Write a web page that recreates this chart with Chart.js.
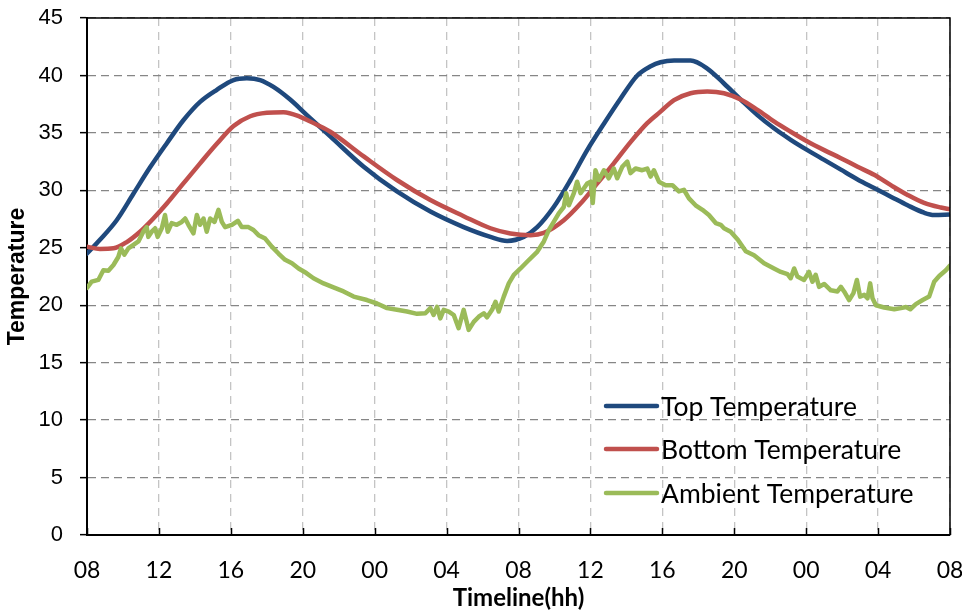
<!DOCTYPE html>
<html>
<head>
<meta charset="utf-8">
<script src="https://cdn.jsdelivr.net/npm/chart.js@4.4.1/dist/chart.umd.min.js"></script>
<style>
  html, body { margin: 0; padding: 0; background: #ffffff; }
  #wrap { width: 962px; height: 614px; }
</style>
</head>
<body>
<div id="wrap"><canvas id="chart" width="962" height="614"></canvas></div>
<script>
// Clock labels every 4 hours over two days, starting at 08:00
const hourLabels = ['08', '12', '16', '20', '00', '04', '08', '12', '16', '20', '00', '04', '08'];

const seriesNames = ['Top Temperature', 'Bottom Temperature', 'Ambient Temperature'];
const seriesColors = ['#1F497D', '#C0504D', '#9BBB59'];

// Hours elapsed since 08:00 on the first day, and temperatures
const topHours = [0, 0.72, 1.65, 2.58, 3.51, 4.44, 5.36, 6.29, 7.22, 8.15, 8.89, 9.63, 10.37, 11.3, 12.23,
  13.53, 15.39, 17.24, 19.1, 20.95, 22.44, 23.37, 24.29, 25.04, 25.96, 26.89, 27.82, 28.75, 29.68, 30.61,
  31.35, 31.9, 32.65, 33.57, 34.5, 35.43, 36.36, 37.29, 38.21, 39.14, 40.07, 41.0, 41.93, 42.86, 43.78,
  44.71, 45.64, 46.56, 47.12, 48];
const topTemp = [24.5, 25.7, 27.4, 29.7, 32.0, 34.1, 36.1, 37.7, 38.75, 39.6, 39.75, 39.6, 39.0, 37.9, 36.55,
  34.7, 32.05, 29.9, 28.15, 26.8, 25.95, 25.6, 25.95, 26.8, 28.55, 30.9, 33.5, 35.8, 38.0, 40.0,
  40.8, 41.15, 41.3, 41.3, 40.6, 39.3, 37.9, 36.55, 35.4, 34.4, 33.5, 32.65, 31.8, 30.95, 30.2,
  29.45, 28.7, 28.05, 27.85, 27.9];

const bottomHours = [0, 0.72, 1.47, 2.21, 2.95, 3.69, 4.44, 5.36, 6.29, 7.22, 8.15, 9.08, 10.0, 10.93, 11.86,
  12.79, 13.53, 15.39, 17.24, 19.1, 20.95, 22.44, 23.55, 24.67, 25.41, 26.52, 27.45, 28.38, 29.3, 30.23,
  31.16, 31.9, 32.65, 33.57, 34.5, 35.43, 36.36, 37.29, 38.21, 39.14, 40.07, 41.0, 41.93, 42.86, 43.78,
  44.71, 45.64, 46.56, 47.49, 48];
const bottomTemp = [25.1, 24.9, 24.95, 25.5, 26.4, 27.55, 28.85, 30.6, 32.35, 34.05, 35.6, 36.45, 36.75, 36.8, 36.4,
  35.7, 35.1, 32.95, 30.9, 29.15, 27.75, 26.7, 26.25, 26.1, 26.3, 27.4, 28.85, 30.6, 32.35, 34.2,
  35.85, 36.85, 37.85, 38.45, 38.6, 38.45, 37.9, 37.0, 36.0, 35.1, 34.25, 33.5, 32.8, 32.05, 31.35,
  30.45, 29.6, 28.9, 28.5, 28.35];

const ambientHours = [0, 0.26, 0.63, 0.91, 1.19, 1.47, 1.74, 1.89, 2.08, 2.3, 2.58, 2.86, 3.13, 3.32, 3.41,
  3.6, 3.79, 3.93, 4.16, 4.34, 4.49, 4.71, 4.99, 5.27, 5.46, 5.64, 5.92, 6.11, 6.29, 6.48,
  6.66, 6.85, 7.09, 7.31, 7.5, 7.68, 8.06, 8.39, 8.61, 8.98, 9.26, 9.54, 9.91, 10.28, 10.65,
  11.02, 11.4, 11.77, 12.2, 12.6, 13.16, 13.71, 14.27, 14.83, 15.57, 16.13, 16.69, 17.24, 17.8, 18.36,
  18.82, 19.1, 19.28, 19.47, 19.65, 19.84, 20.12, 20.4, 20.67, 20.95, 21.23, 21.51, 21.79, 22.07, 22.25,
  22.53, 22.72, 22.9, 23.18, 23.46, 23.74, 24.11, 24.52, 25.04, 25.41, 25.69, 25.96, 26.24, 26.52, 26.65,
  26.8, 27.08, 27.26, 27.45, 27.63, 27.82, 28.01, 28.13, 28.28, 28.47, 28.75, 29.02, 29.3, 29.49, 29.77,
  30.05, 30.23, 30.51, 30.88, 31.16, 31.35, 31.53, 31.81, 32.18, 32.56, 32.92, 33.2, 33.48, 33.85, 34.23,
  34.59, 34.97, 35.25, 35.43, 35.8, 36.2, 36.64, 37.1, 37.66, 38.21, 38.59, 38.96, 39.14, 39.33, 39.51,
  39.88, 40.16, 40.35, 40.53, 40.72, 41.0, 41.37, 41.74, 41.93, 42.11, 42.39, 42.63, 42.82, 43.0, 43.23,
  43.41, 43.56, 43.69, 43.88, 44.34, 44.9, 45.27, 45.55, 45.79, 46.1, 46.48, 46.84, 47.12, 47.4, 47.77,
  48];
const ambientTemp = [21.5, 22.05, 22.2, 23.05, 23.0, 23.5, 24.2, 24.95, 24.4, 24.95, 25.25, 25.55, 26.4, 26.8, 25.95,
  26.4, 26.7, 25.95, 26.7, 27.85, 26.4, 27.15, 27.0, 27.25, 27.55, 27.0, 26.25, 27.85, 27.0, 27.55,
  26.4, 27.55, 27.25, 28.3, 27.25, 26.8, 27.0, 27.35, 26.8, 26.8, 26.55, 26.1, 25.8, 25.1, 24.5,
  23.95, 23.65, 23.2, 22.8, 22.35, 21.9, 21.55, 21.2, 20.75, 20.45, 20.15, 19.75, 19.6, 19.45, 19.25,
  19.3, 19.75, 19.15, 19.85, 18.85, 19.6, 19.45, 19.15, 18.0, 19.6, 17.85, 18.55, 19.0, 19.3, 18.95,
  19.6, 20.3, 19.45, 20.75, 21.9, 22.65, 23.2, 23.85, 24.65, 25.55, 26.55, 27.25, 28.0, 28.55, 29.75,
  28.7, 29.75, 30.75, 29.75, 30.15, 30.6, 30.75, 28.9, 31.75, 30.9, 31.75, 31.05, 31.9, 31.05, 32.05,
  32.5, 31.5, 31.9, 31.75, 31.9, 31.2, 31.75, 30.75, 30.45, 30.45, 29.9, 30.05, 29.3, 28.7, 28.3,
  27.85, 27.15, 27.0, 26.7, 26.4, 25.7, 24.7, 24.35, 23.65, 23.2, 22.9, 22.7, 22.35, 23.2, 22.5,
  22.2, 22.9, 22.05, 22.65, 21.6, 21.85, 21.3, 21.2, 21.6, 21.2, 20.45, 21.05, 22.2, 20.75, 20.9,
  20.6, 21.9, 20.6, 20.0, 19.8, 19.65, 19.75, 19.85, 19.65, 20.1, 20.45, 20.75, 22.05, 22.55, 23.05,
  23.45];

const toPoints = (xs, ys) => xs.map((x, i) => ({ x: x, y: ys[i] }));

const SANS_C = 'Lato, "Open Sans", sans-serif';
const SANS_A = '"Liberation Sans", Arial, sans-serif';

// Solid frame along the top and right of the plot, plus short inward ticks on the time axis
const plotFrame = {
  id: 'plotFrame',
  afterDatasetsDraw(chart) {
    const { ctx, chartArea: a, scales } = chart;
    ctx.save();
    ctx.strokeStyle = '#000000';
    ctx.lineWidth = 1.5;
    ctx.beginPath();
    ctx.moveTo(a.left, a.top);
    ctx.lineTo(a.right, a.top);
    ctx.lineTo(a.right, a.bottom);
    ctx.stroke();
    ctx.beginPath();
    scales.x.ticks.forEach(t => {
      const px = Math.round(scales.x.getPixelForValue(t.value)) + 0.5;
      ctx.moveTo(px, a.bottom);
      ctx.lineTo(px, a.bottom - 7);
    });
    ctx.stroke();
    ctx.restore();
  }
};

// Legend drawn inside the lower right of the plot
const insideLegend = {
  id: 'insideLegend',
  afterDraw(chart) {
    const { ctx } = chart;
    const rowY = [406, 449, 493];
    ctx.save();
    ctx.font = '26.5px ' + SANS_C;
    ctx.textBaseline = 'middle';
    ctx.textAlign = 'left';
    chart.data.datasets.forEach((ds, i) => {
      ctx.strokeStyle = ds.borderColor;
      ctx.lineWidth = 4.5;
      ctx.lineCap = 'round';
      ctx.beginPath();
      ctx.moveTo(606, rowY[i]);
      ctx.lineTo(657, rowY[i]);
      ctx.stroke();
      ctx.fillStyle = '#000000';
      ctx.fillText(ds.label, 661, rowY[i] + 1);
    });
    ctx.restore();
  }
};

new Chart(document.getElementById('chart'), {
  type: 'line',
  data: {
    datasets: [
      { label: seriesNames[0], data: toPoints(topHours, topTemp), borderColor: seriesColors[0],
        borderWidth: 4.5, tension: 0.4, cubicInterpolationMode: 'monotone', order: 3 },
      { label: seriesNames[1], data: toPoints(bottomHours, bottomTemp), borderColor: seriesColors[1],
        borderWidth: 4.5, tension: 0.4, cubicInterpolationMode: 'monotone', order: 2 },
      { label: seriesNames[2], data: toPoints(ambientHours, ambientTemp), borderColor: seriesColors[2],
        borderWidth: 4.5, tension: 0, order: 1 }
    ]
  },
  options: {
    responsive: false,
    animation: false,
    events: [],
    elements: {
      point: { radius: 0 },
      line: { borderJoinStyle: 'round', borderCapStyle: 'round', fill: false }
    },
    layout: { padding: { top: 18, right: 12, left: 0, bottom: 0 } },
    plugins: { legend: { display: false }, tooltip: { enabled: false } },
    scales: {
      x: {
        type: 'linear',
        min: 0,
        max: 48,
        afterFit(scale) {
          scale.height = 79;
          scale.paddingLeft = 0;
          scale.paddingRight = 0;
        },
        grid: { color: '#c4c4c4', lineWidth: 1.3, drawTicks: false },
        border: { display: true, color: '#000000', width: 2, dash: [8, 6] },
        ticks: {
          stepSize: 4,
          autoSkip: false,
          maxRotation: 0,
          padding: 22,
          color: '#000000',
          font: { family: SANS_C, size: 23 },
          callback: (v, i) => hourLabels[i]
        },
        title: {
          display: true,
          text: 'Timeline(hh)',
          color: '#000000',
          font: { family: SANS_C, size: 24, weight: 'bold', lineHeight: 1.0 },
          padding: { top: 0, bottom: 4 }
        }
      },
      y: {
        min: 0,
        max: 45,
        afterFit(scale) {
          scale.width = 87;
          scale.paddingTop = 0;
          scale.paddingBottom = 0;
        },
        grid: { color: '#868686', lineWidth: 1.3, drawTicks: true, tickLength: 7,
                tickColor: '#000000', tickWidth: 1.5, tickBorderDash: [] },
        border: { display: true, color: '#000000', width: 2, dash: [8, 5] },
        ticks: {
          stepSize: 5,
          padding: 17,
          color: '#000000',
          font: { family: SANS_A, size: 22 }
        },
        title: {
          display: true,
          text: 'Temperature',
          color: '#000000',
          font: { family: SANS_A, size: 23, weight: 'bold', lineHeight: 1.2 },
          padding: { top: 4, bottom: 0 }
        }
      }
    }
  },
  plugins: [plotFrame, insideLegend]
});
</script>
</body>
</html>
